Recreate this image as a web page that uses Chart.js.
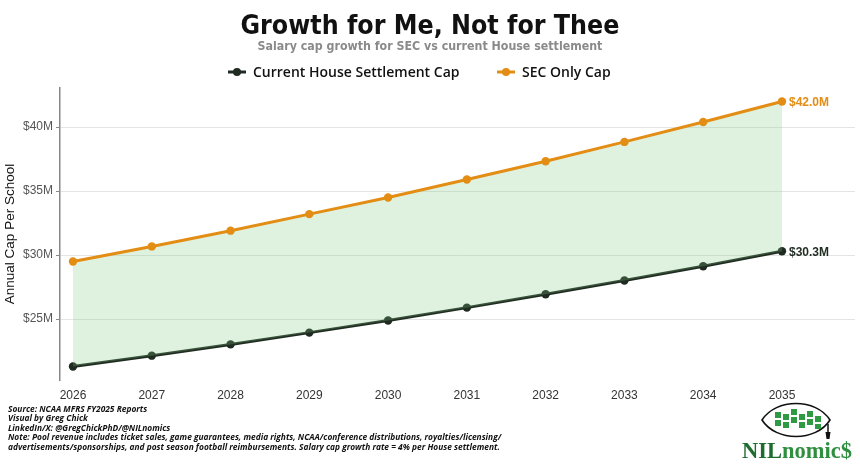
<!DOCTYPE html>
<html>
<head>
<meta charset="utf-8">
<script src="https://cdn.jsdelivr.net/npm/chart.js@4.4.1/dist/chart.umd.min.js"></script>
<style>
  html, body { margin:0; padding:0; background:#fff; }
  #wrap { position:relative; width:860px; height:469px; overflow:hidden; background:#fff; }
  #c { position:absolute; left:0; top:0; }
  .title { position:absolute; left:0; width:860px; top:9px; text-align:center;
           font-family:'Liberation Sans Narrow','DejaVu Sans Condensed',sans-serif; font-weight:bold; font-size:26.5px; color:#111; }
  .subtitle { position:absolute; left:0; width:860px; top:39px; text-align:center;
           font-family:'Liberation Sans Narrow','DejaVu Sans Condensed',sans-serif; font-weight:bold; font-size:12.3px; color:#8a8a8a; }
  .legend { position:absolute; top:62px; left:0; width:860px; height:20px;
           font-family:'Open Sans',sans-serif; font-weight:600; font-size:14px; color:#111; }
  .legend .item { position:absolute; top:0; display:flex; align-items:center; white-space:nowrap; }
  .legend svg { margin-right:7px; }
  .foot { position:absolute; left:8px; top:403.5px; font-family:'Open Sans',sans-serif; font-weight:bold; font-style:italic;
          font-size:8.4px; line-height:9.5px; color:#111; white-space:nowrap; }
  .logo { position:absolute; left:738px; top:398px; width:120px; height:66px; }
</style>
</head>
<body>
<div id="wrap">
  <canvas id="c" width="860" height="469"></canvas>
  <div class="title">Growth for Me, Not for Thee</div>
  <div class="subtitle">Salary cap growth for SEC vs current House settlement</div>
  <div class="legend" id="legend"></div>
  <div class="foot">
    Source: NCAA MFRS FY2025 Reports<br>
    Visual by Greg Chick<br>
    LinkedIn/X: @GregChickPhD/@NILnomics<br>
    Note: Pool revenue includes ticket sales, game guarantees, media rights, NCAA/conference distributions, royalties/licensing/<br>
    advertisements/sponsorships, and post season football reimbursements. Salary cap growth rate = 4% per House settlement.
  </div>
  <svg class="logo" viewBox="0 0 120 66" xmlns="http://www.w3.org/2000/svg">
    <path d="M24 22 C 38 0, 78 0, 92 22 C 78 44, 38 44, 24 22 Z" fill="none" stroke="#111" stroke-width="1.6"/>
    <g fill="#2e9a44">
      <rect x="37" y="14" width="6" height="6"/><rect x="37" y="22" width="6" height="6"/>
      <rect x="45" y="16" width="6" height="6"/><rect x="45" y="24" width="6" height="6"/>
      <rect x="53" y="11" width="6" height="6"/><rect x="53" y="19" width="6" height="6"/>
      <rect x="61" y="16" width="6" height="6"/><rect x="61" y="24" width="6" height="6"/>
      <rect x="69" y="13" width="6" height="6"/><rect x="69" y="21" width="6" height="6"/>
      <rect x="77" y="18" width="6" height="6"/><rect x="77" y="26" width="6" height="5"/>
    </g>
    <line x1="90" y1="26" x2="90" y2="34" stroke="#111" stroke-width="1.5"/>
    <path d="M87.5 34 L92.5 34 L91.5 41 L88.5 41 Z" fill="#111"/>
    <text x="4" y="60" font-family="'Liberation Serif',serif" font-weight="bold" font-size="22.5" fill="#1d6e2e">NIL<tspan fill="#2f8f3f">nomic$</tspan></text>
  </svg>
</div>
<script>
const years = [2026, 2027, 2028, 2029, 2030, 2031, 2032, 2033, 2034, 2035];
const houseCap = [21.3, 22.15, 23.03, 23.95, 24.9, 25.9, 26.94, 28.02, 29.13, 30.3];
const secCap = [29.5, 30.68, 31.91, 33.2, 34.5, 35.9, 37.33, 38.84, 40.4, 42.0];
const yTicks = [25, 30, 35, 40];
const seriesNames = ['Current House Settlement Cap', 'SEC Only Cap'];
const seriesColors = ['#1f2b21', '#e38d14'];

// HTML legend
const leg = document.getElementById('legend');
const legendX = [228, 497];
seriesNames.forEach((n, i) => {
  const d = document.createElement('div');
  d.className = 'item';
  d.style.left = legendX[i] + 'px';
  d.innerHTML = '<svg width="18" height="10"><line x1="0" y1="5" x2="18" y2="5" stroke="' + seriesColors[i] +
    '" stroke-width="3"/><circle cx="9" cy="5" r="4" fill="' + seriesColors[i] + '"/></svg><span>' + n + '</span>';
  leg.appendChild(d);
});

const endLabels = {
  id: 'endLabels',
  afterDatasetsDraw(chart) {
    const ctx = chart.ctx;
    ctx.save();
    ctx.font = 'bold 12px "Liberation Sans", Arial, sans-serif';
    ctx.textBaseline = 'middle';
    ctx.textAlign = 'left';
    chart.data.datasets.forEach((ds, i) => {
      const meta = chart.getDatasetMeta(i);
      const last = meta.data[meta.data.length - 1];
      const v = ds.data[ds.data.length - 1].y;
      ctx.fillStyle = seriesColors[i];
      ctx.fillText('$' + v.toFixed(1) + 'M', last.x + 7, last.y + 1);
    });
    ctx.restore();
  }
};

new Chart(document.getElementById('c'), {
  type: 'line',
  data: {
    datasets: [
      {
        label: seriesNames[0],
        data: years.map((y, i) => ({ x: y, y: houseCap[i] })),
        borderColor: seriesColors[0],
        backgroundColor: seriesColors[0],
        borderWidth: 3,
        pointRadius: 4.2,
        pointBackgroundColor: seriesColors[0],
        pointBorderWidth: 0,
        fill: false,
        order: 1
      },
      {
        label: seriesNames[1],
        data: years.map((y, i) => ({ x: y, y: secCap[i] })),
        borderColor: seriesColors[1],
        backgroundColor: 'rgba(127,199,127,0.25)',
        borderWidth: 3,
        pointRadius: 4.2,
        pointBackgroundColor: seriesColors[1],
        pointBorderWidth: 0,
        fill: { target: 0 },
        order: 0
      }
    ]
  },
  options: {
    responsive: false,
    animation: false,
    layout: { padding: { left: 0, top: 88, right: 5, bottom: 0 } },
    plugins: { legend: { display: false }, tooltip: { enabled: false } },
    scales: {
      x: {
        type: 'linear',
        min: 2025.835,
        max: 2035.927,
        afterBuildTicks: (s) => { s.ticks = years.map(v => ({ value: v })); },
        afterFit: (s) => { s.height = 89; },
        grid: { display: false },
        border: { display: false },
        ticks: {
          color: '#333',
          font: { family: '"Liberation Sans", Arial, sans-serif', size: 12 },
          padding: 0,
          maxRotation: 0,
          autoSkip: false,
          callback: (v) => String(v)
        }
      },
      y: {
        type: 'linear',
        min: 20.25,
        max: 43.05,
        afterBuildTicks: (s) => { s.ticks = yTicks.map(v => ({ value: v })); },
        afterFit: (s) => { s.width = 60; },
        grid: { color: '#e4e4e4', lineWidth: 1, tickColor: '#888', tickLength: 4 },
        border: { display: true, color: '#888', width: 1.5 },
        ticks: {
          color: '#555',
          font: { family: '"Liberation Sans", Arial, sans-serif', size: 12 },
          padding: 3,
          callback: (v) => '$' + v + 'M'
        },
        title: {
          display: true,
          text: 'Annual Cap Per School',
          color: '#111',
          font: { family: '"Liberation Sans", Arial, sans-serif', size: 13.5 },
          padding: { top: 2, bottom: 0 }
        }
      }
    }
  },
  plugins: [endLabels]
});
</script>
</body>
</html>
